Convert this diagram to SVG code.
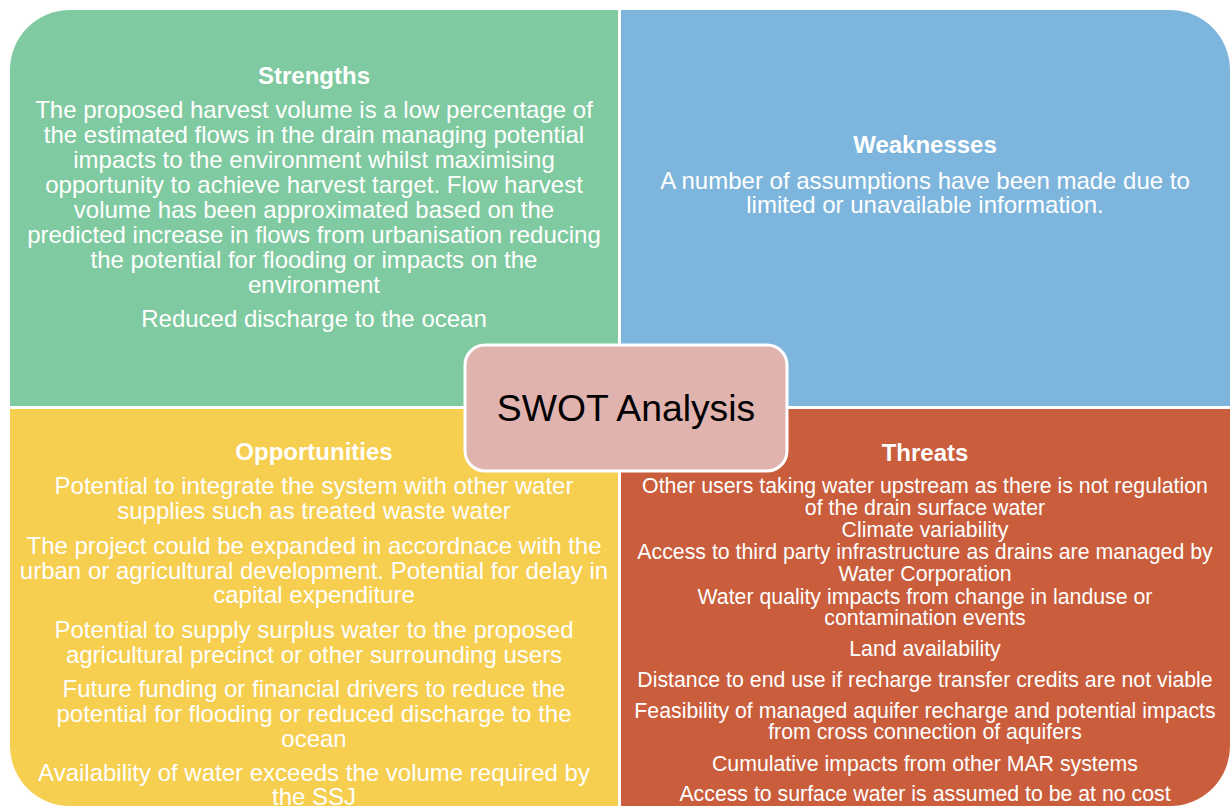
<svg xmlns="http://www.w3.org/2000/svg" width="1230" height="806" viewBox="0 0 1230 806">
  <style>
    .title { font-family: "Liberation Sans", Arial, sans-serif; font-weight: bold; font-size: 24px; fill: #ffffff; text-anchor: middle; }
    .body { font-family: "Liberation Sans", Arial, sans-serif; font-size: 24px; fill: #ffffff; text-anchor: middle; }
    .small { font-family: "Liberation Sans", Arial, sans-serif; font-size: 21.3px; fill: #ffffff; text-anchor: middle; }
    .center { font-family: "Liberation Sans", Arial, sans-serif; font-size: 37.3px; fill: #000000; text-anchor: middle; }
  </style>
  <rect x="0" y="0" width="1230" height="806" fill="#ffffff"/>

  <!-- Strengths quadrant -->
  <g id="strengths">
    <path d="M10,406 V70 A60,60 0 0 1 70,10 H618 V406 Z" fill="#7FCAA0"/>
    <text class="title" x="314" y="84">Strengths</text>
    <text class="body" x="314" y="118">The proposed harvest volume is a low percentage of</text>
    <text class="body" x="314" y="143">the estimated flows in the drain managing potential</text>
    <text class="body" x="314" y="168">impacts to the environment whilst maximising</text>
    <text class="body" x="314" y="193">opportunity to achieve harvest target. Flow harvest</text>
    <text class="body" x="314" y="218">volume has been approximated based on the</text>
    <text class="body" x="314" y="243">predicted increase in flows from urbanisation reducing</text>
    <text class="body" x="314" y="268">the potential for flooding or impacts on the</text>
    <text class="body" x="314" y="293">environment</text>
    <text class="body" x="314" y="327">Reduced discharge to the ocean</text>
  </g>

  <!-- Weaknesses quadrant -->
  <g id="weaknesses">
    <path d="M621,10 H1170 A60,60 0 0 1 1230,70 V406 H621 Z" fill="#7EB5DC"/>
    <text class="title" x="925" y="153">Weaknesses</text>
    <text class="body" x="925" y="189">A number of assumptions have been made due to</text>
    <text class="body" x="925" y="213">limited or unavailable information.</text>
  </g>

  <!-- Opportunities quadrant -->
  <g id="opportunities">
    <path d="M10,409 H618 V806 H70 A60,60 0 0 1 10,746 Z" fill="#F6CE50"/>
    <text class="title" x="314" y="460">Opportunities</text>
    <text class="body" x="314" y="494">Potential to integrate the system with other water</text>
    <text class="body" x="314" y="519">supplies such as treated waste water</text>
    <text class="body" x="314" y="554">The project could be expanded in accordnace with the</text>
    <text class="body" x="314" y="579">urban or agricultural development. Potential for delay in</text>
    <text class="body" x="314" y="603">capital expenditure</text>
    <text class="body" x="314" y="638">Potential to supply surplus water to the proposed</text>
    <text class="body" x="314" y="663">agricultural precinct or other surrounding users</text>
    <text class="body" x="314" y="697">Future funding or financial drivers to reduce the</text>
    <text class="body" x="314" y="722">potential for flooding or reduced discharge to the</text>
    <text class="body" x="314" y="747">ocean</text>
    <text class="body" x="314" y="781">Availability of water exceeds the volume required by</text>
    <text class="body" x="314" y="805">the SSJ</text>
  </g>

  <!-- Threats quadrant -->
  <g id="threats">
    <path d="M621,409 H1230 V746 A60,60 0 0 1 1170,806 H621 Z" fill="#C95D3C"/>
    <text class="title" x="925" y="461">Threats</text>
    <text class="small" x="925" y="493">Other users taking water upstream as there is not regulation</text>
    <text class="small" x="925" y="515">of the drain surface water</text>
    <text class="small" x="925" y="537">Climate variability</text>
    <text class="small" x="925" y="559">Access to third party infrastructure as drains are managed by</text>
    <text class="small" x="925" y="581">Water Corporation</text>
    <text class="small" x="925" y="604">Water quality impacts from change in landuse or</text>
    <text class="small" x="925" y="625">contamination events</text>
    <text class="small" x="925" y="656">Land availability</text>
    <text class="small" x="925" y="687">Distance to end use if recharge transfer credits are not viable</text>
    <text class="small" x="925" y="718">Feasibility of managed aquifer recharge and potential impacts</text>
    <text class="small" x="925" y="739">from cross connection of aquifers</text>
    <text class="small" x="925" y="771">Cumulative impacts from other MAR systems</text>
    <text class="small" x="925" y="801">Access to surface water is assumed to be at no cost</text>
  </g>

  <!-- Central label -->
  <g id="swot-center">
    <rect x="465" y="345" width="322" height="126" rx="20" ry="20" fill="#E0B3AE" stroke="#ffffff" stroke-width="3"/>
    <text class="center" x="626" y="421">SWOT Analysis</text>
  </g>
</svg>
